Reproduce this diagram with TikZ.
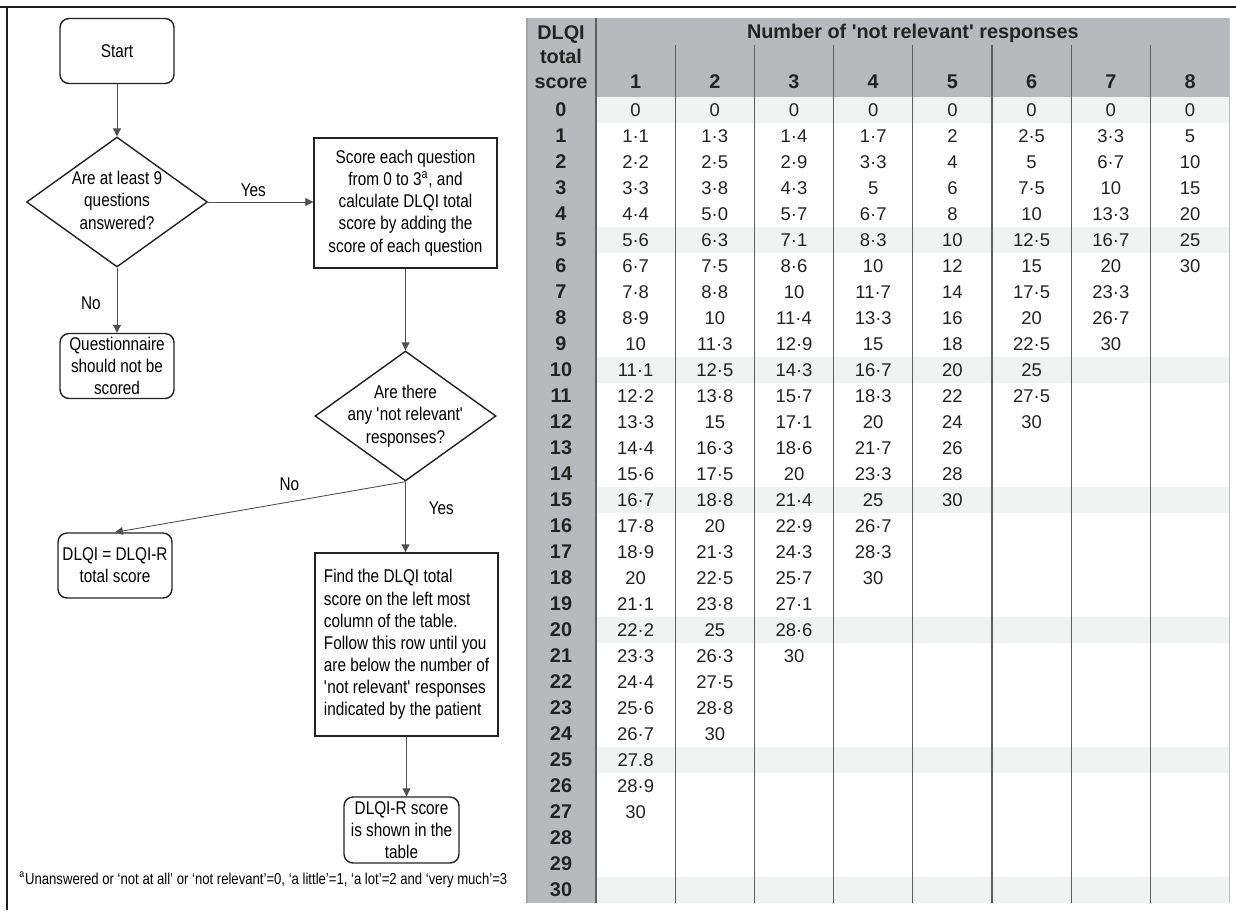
\documentclass[tikz,border=0pt]{standalone}
\usepackage{fontspec}
\setmainfont{Liberation Sans}
\newfontfamily\flowfont{Liberation Sans}[FakeStretch=0.83]
\usetikzlibrary{shapes.geometric,arrows.meta}
\definecolor{boxline}{RGB}{35,35,35}
\definecolor{linkgrey}{RGB}{80,80,80}
\definecolor{tblgrey}{RGB}{184,185,189}
\definecolor{stripe}{RGB}{241,242,242}
\definecolor{divgrey}{RGB}{95,95,95}
\definecolor{tbltext}{RGB}{35,35,35}
\definecolor{framecol}{RGB}{30,30,30}
\newcommand{\qtext}[1]{\smash{\raisebox{-3pt}{\begin{tabular}{@{}c@{}}#1\end{tabular}}}}
\begin{document}
\begin{tikzpicture}[x=0.02cm,y=-0.02cm,
  >={Triangle[length=4.5pt,width=4.5pt]},
  flow/.style={font={\flowfont\fontsize{10.5}{12.6}\selectfont}},
  term/.style={flow,draw=boxline,line width=0.8pt,rounded corners=0.18cm,minimum width=2.28cm,minimum height=1.3cm,inner sep=0pt,align=center},
  proc/.style={flow,draw=boxline,line width=0.8pt,minimum width=3.66cm,minimum height=2.6cm,inner sep=2pt,align=center},
  decision/.style={flow,diamond,draw=boxline,line width=0.8pt,minimum width=3.62cm,minimum height=2.6cm,inner sep=0pt},
  link/.style={draw=linkgrey,line width=0.5pt,->},
  lab/.style={flow,inner sep=1pt},
  cell/.style={font={\fontsize{10.5}{12}\selectfont},text=tbltext,inner sep=0pt},
  rowlab/.style={font={\bfseries\fontsize{11.3}{13}\selectfont},text=tbltext,inner sep=0pt}]
\useasboundingbox (0,0) rectangle (1236,910);
% Frame
\draw[framecol,line width=1.7pt] (0,7) -- (1236,7);
\draw[framecol,line width=1.7pt] (7,7) -- (7,910);
% Flowchart
\node[term] (start) at (117,51) {Start};
\node[decision] (answered) at (117,202) {\qtext{Are at least 9\\questions\\answered?}};
\node[proc] (score) at (405.5,203) {Score each question\\from 0 to 3\textsuperscript{a}, and\\calculate DLQI total\\score by adding the\\score of each question};
\node[term] (noscore) at (117,366) {Questionnaire\\should not be\\scored};
\node[decision] (relevant) at (405.5,416) {\qtext{Are there\\any \textquotesingle not relevant\textquotesingle\\responses?}};
\node[term] (same) at (115,565.5) {DLQI = DLQI-R\\total score};
\node[proc,minimum height=3.66cm,align=left] (find) at (406.5,644.5) {Find the DLQI total\\score on the left most\\column of the table.\\Follow this row until you\\are below the number of\\\textquotesingle not relevant\textquotesingle{} responses\\indicated by the patient};
\node[term,minimum width=2.3cm,minimum height=1.32cm] (result) at (401.5,830) {DLQI-R score\\is shown in the\\table};
\draw[link] (start) -- (answered.north);
\draw[link] (answered.east) -- (answered.east -| score.west) node[lab,pos=0.43,above=2pt] (yes1) {Yes};
\draw[link] (answered.south) -- (noscore.north) node[lab,pos=0.55,left=8pt] (no1) {No};
\draw[link] (score.south) -- (relevant.north);
\draw[link] (relevant.south) -- (same.north) node[lab,pos=0.4,above=5pt] (no2) {No};
\draw[link] (relevant.south) -- (relevant.south |- find.north) node[lab,pos=0.38,right=12pt] (yes2) {Yes};
\draw[link] (find.south) -- (find.south |- result.north);
\node[flow,font={\flowfont\fontsize{9}{11}\selectfont},anchor=west,inner sep=0pt] (note) at (19,880) {\textsuperscript{a}Unanswered or ‘not at all’ or ‘not relevant’=0, ‘a little’=1, ‘a lot’=2 and ‘very much’=3};
% Table
\fill[tblgrey] (527,18) rectangle (1229.6,97);
\fill[tblgrey] (527,97) rectangle (596,903);
\foreach \r in {0,5,...,30}
  \fill[stripe] (596,97+26*\r) rectangle (1229.6,123+26*\r);
\foreach \k in {1,...,7}
  \draw[divgrey,line width=0.7pt] (596+79.2*\k,45) -- (596+79.2*\k,903);
\draw[divgrey,line width=0.7pt] (596,18) -- (596,903);
\draw[gray!70,line width=0.6pt] (527,18) -- (527,903);
\draw[gray!50,line width=0.6pt] (1229.6,18) -- (1229.6,903);
\node[rowlab,align=center,font={\bfseries\fontsize{11.3}{13.9}\selectfont}] (corner) at (561,57) {DLQI\\total\\score};
\node[rowlab] (heading) at (912.8,33) {Number of \textquotesingle not relevant\textquotesingle{} responses};
\foreach \k in {1,...,8}
  \node[rowlab] (c\k) at (556.4+79.2*\k,82) {\k};
\foreach \r in {0,...,30}
  \node[rowlab] (r\r) at (561,110+26*\r) {\r};
\foreach \r/\vals in {0/{0,0,0,0,0,0,0,0},
  1/{1·1,1·3,1·4,1·7,2,2·5,3·3,5},
  2/{2·2,2·5,2·9,3·3,4,5,6·7,10},
  3/{3·3,3·8,4·3,5,6,7·5,10,15},
  4/{4·4,5·0,5·7,6·7,8,10,13·3,20},
  5/{5·6,6·3,7·1,8·3,10,12·5,16·7,25},
  6/{6·7,7·5,8·6,10,12,15,20,30},
  7/{7·8,8·8,10,11·7,14,17·5,23·3},
  8/{8·9,10,11·4,13·3,16,20,26·7},
  9/{10,11·3,12·9,15,18,22·5,30},
  10/{11·1,12·5,14·3,16·7,20,25},
  11/{12·2,13·8,15·7,18·3,22,27·5},
  12/{13·3,15,17·1,20,24,30},
  13/{14·4,16·3,18·6,21·7,26},
  14/{15·6,17·5,20,23·3,28},
  15/{16·7,18·8,21·4,25,30},
  16/{17·8,20,22·9,26·7},
  17/{18·9,21·3,24·3,28·3},
  18/{20,22·5,25·7,30},
  19/{21·1,23·8,27·1},
  20/{22·2,25,28·6},
  21/{23·3,26·3,30},
  22/{24·4,27·5},
  23/{25·6,28·8},
  24/{26·7,30},
  25/{27.8},
  26/{28·9},
  27/{30}}
  \foreach \v [count=\k] in \vals
    \node[cell] (v\r-\k) at (556.4+79.2*\k,110+26*\r) {\v};
\end{tikzpicture}
\end{document}
